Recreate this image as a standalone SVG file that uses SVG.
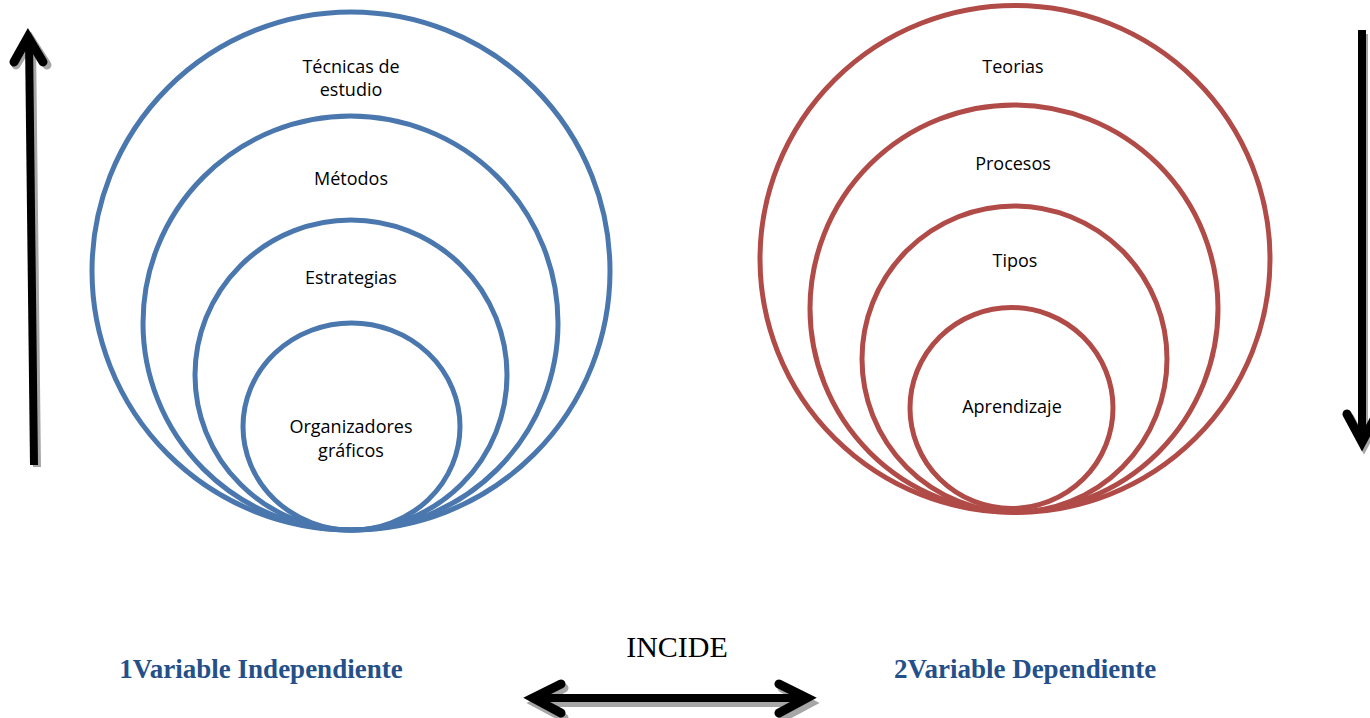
<svg xmlns="http://www.w3.org/2000/svg" width="1370" height="718" viewBox="0 0 1370 718">
  <style>
    .ring-blue { fill: none; stroke: #4A77AD; stroke-width: 5; }
    .ring-red { fill: none; stroke: #B04B48; stroke-width: 5; }
    .lbl { font-family: "Open Sans", "Noto Sans", sans-serif; font-size: 18px; fill: #000; text-anchor: middle; }
    .var { font-family: "Liberation Serif", "Times New Roman", serif; font-size: 27px; font-weight: bold; fill: #24508A; text-anchor: middle; }
    .incide { font-family: "Liberation Serif", "Times New Roman", serif; font-size: 30px; fill: #000; text-anchor: middle; }
    .arrow { fill: none; stroke: #000; stroke-width: 8; stroke-linecap: butt; }
    .head { fill: none; stroke: #000; stroke-width: 9; stroke-linecap: round; stroke-linejoin: miter; }
    .shadow { fill: none; stroke: #A6A6A6; stroke-width: 8; }
    .shadow-head { fill: none; stroke: #A6A6A6; stroke-width: 9; stroke-linecap: round; stroke-linejoin: miter; }
  </style>

  <!-- independent variable: nested rings, all tangent at the bottom -->
  <g id="tecnicas">
    <ellipse class="ring-blue" cx="351" cy="271" rx="259" ry="259"/>
    <text class="lbl" x="351" y="73">Técnicas de</text>
    <text class="lbl" x="351" y="96">estudio</text>
  </g>
  <g id="metodos">
    <ellipse class="ring-blue" cx="350.5" cy="323" rx="207.5" ry="207"/>
    <text class="lbl" x="351" y="185">Métodos</text>
  </g>
  <g id="estrategias">
    <ellipse class="ring-blue" cx="351" cy="375" rx="156" ry="155"/>
    <text class="lbl" x="351" y="284">Estrategias</text>
  </g>
  <g id="organizadores">
    <ellipse class="ring-blue" cx="351.5" cy="426.5" rx="108.5" ry="103.5"/>
    <text class="lbl" x="351" y="433">Organizadores</text>
    <text class="lbl" x="351" y="457">gráficos</text>
  </g>

  <!-- dependent variable rings -->
  <g id="teorias">
    <ellipse class="ring-red" cx="1015" cy="259" rx="255" ry="253.5"/>
    <text class="lbl" x="1013" y="73">Teorias</text>
  </g>
  <g id="procesos">
    <ellipse class="ring-red" cx="1014" cy="308.5" rx="204" ry="203.5"/>
    <text class="lbl" x="1013" y="170">Procesos</text>
  </g>
  <g id="tipos">
    <ellipse class="ring-red" cx="1014.5" cy="359" rx="152.5" ry="153"/>
    <text class="lbl" x="1015" y="267">Tipos</text>
  </g>
  <g id="aprendizaje">
    <ellipse class="ring-red" cx="1011.5" cy="408" rx="101.5" ry="100.5"/>
    <text class="lbl" x="1012" y="413">Aprendizaje</text>
  </g>

  <!-- captions -->
  <g id="var-independiente">
    <text class="var" x="261" y="678">1Variable Independiente</text>
  </g>
  <g id="var-dependiente">
    <text class="var" x="1025" y="678">2Variable Dependiente</text>
  </g>
  <g id="incide">
    <text class="incide" x="677" y="657">INCIDE</text>
  </g>

  <!-- arrows -->
  <g id="connectors">
    <!-- left upward arrow -->
    <line class="shadow" x1="32" y1="42" x2="37" y2="467"/>
    <polyline class="shadow-head" points="16,65 31,40 47,65"/>
    <line class="arrow" x1="29" y1="40" x2="34" y2="465"/>
    <polyline class="head" points="14,62 28,37 43,62"/>

    <!-- right downward arrow -->
    <line class="shadow" x1="1364" y1="34" x2="1364" y2="446"/>
    <polyline class="shadow-head" points="1350,418 1364,445 1378,418"/>
    <line class="arrow" x1="1362" y1="30" x2="1362" y2="442"/>
    <polyline class="head" points="1347,414 1362,442 1377,414"/>

    <!-- horizontal double arrow -->
    <line class="shadow" x1="538" y1="703" x2="806" y2="703"/>
    <polyline class="shadow-head" points="564,688 536,703 564,718"/>
    <polyline class="shadow-head" points="782,688 810,703 782,718"/>
    <line class="arrow" x1="536" y1="698" x2="804" y2="698"/>
    <polyline class="head" points="561,684 533,698 561,713"/>
    <polyline class="head" points="779,684 807,698 779,713"/>
  </g>
</svg>
